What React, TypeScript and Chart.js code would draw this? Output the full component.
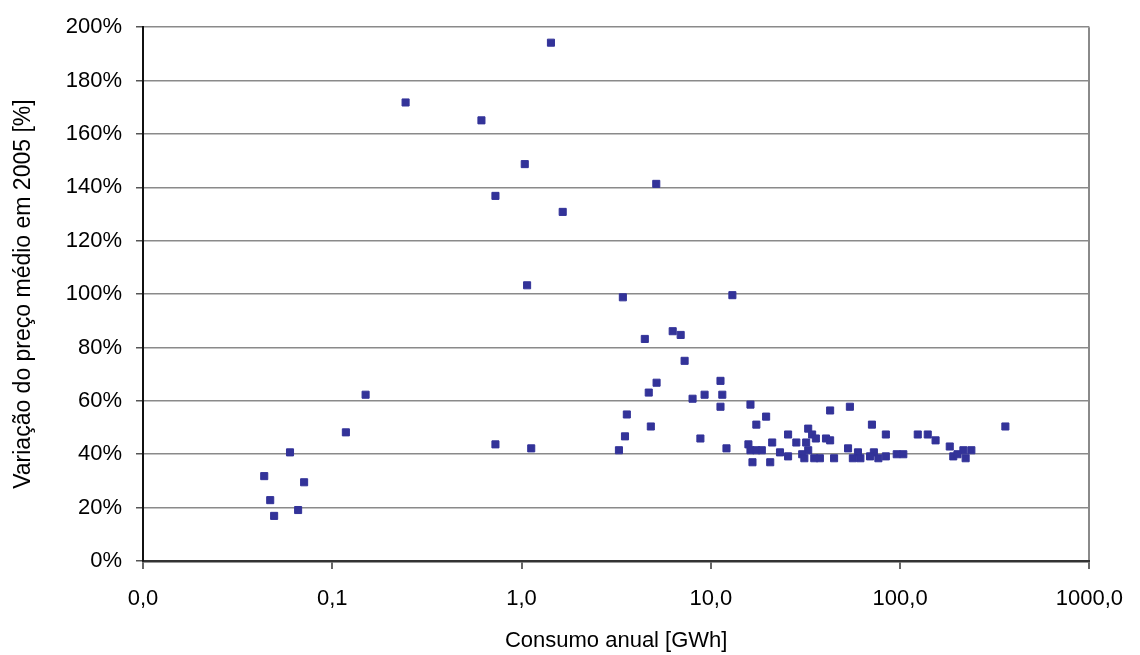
import React, { useEffect, useRef } from "react";
import { Chart, registerables } from "chart.js";

Chart.register(...registerables);

// Consumo anual [GWh]
const consumo = [
  1.43, 0.244, 0.614, 1.04, 0.728, 1.07, 5.15, 1.65, 3.43, 13.0,
  0.15, 0.118, 0.728, 1.125, 0.0598, 0.0437, 0.071, 0.047, 0.066, 0.0493,
  6.29, 6.93, 4.48, 7.27, 11.25, 5.17, 4.7, 9.27, 11.5, 8.01,
  11.25, 16.2, 3.6, 19.6, 42.7, 4.82, 17.4, 32.7, 3.52, 8.81,
  25.6, 34.3, 35.9, 40.6, 42.7, 28.3, 31.9, 21.1, 15.8, 3.27,
  12.1, 16.2, 17.4, 18.6, 32.7, 23.2, 25.6, 30.4, 31.2, 35.2,
  37.7, 44.8, 16.6, 20.6, 54.3, 71.0, 84.1, 124, 140, 154,
  360, 53.1, 59.9, 72.7, 69.4, 84.1, 76.8, 56.3, 61.7, 96,
  104, 183, 216, 238, 191, 201, 222,
];

// Variação do preço médio em 2005 [%]
const variacao = [
  194.2, 171.8, 165.1, 148.7, 136.8, 103.3, 141.3, 130.8, 98.8, 99.6,
  62.3, 48.2, 43.7, 42.2, 40.7, 31.8, 29.5, 22.8, 19.1, 16.9,
  86.1, 84.7, 83.2, 75.0, 67.5, 66.8, 63.1, 62.3, 62.3, 60.8,
  57.8, 58.6, 54.9, 54.1, 56.4, 50.4, 51.1, 49.6, 46.7, 45.9,
  47.4, 47.4, 45.9, 45.9, 45.2, 44.4, 44.4, 44.4, 43.7, 41.5,
  42.2, 41.5, 41.5, 41.5, 41.5, 40.7, 39.2, 40.0, 38.5, 38.5,
  38.5, 38.5, 37.0, 37.0, 57.8, 51.1, 47.4, 47.4, 47.4, 45.2,
  50.4, 42.2, 40.7, 40.7, 39.2, 39.2, 38.5, 38.5, 38.5, 40.0,
  40.0, 42.9, 41.5, 41.5, 39.2, 40.0, 38.5,
];

const xTickValues = [0.01, 0.1, 1, 10, 100, 1000];
const xTickLabels = ["0,0", "0,1", "1,0", "10,0", "100,0", "1000,0"];
const yTickStep = 20;
const yMin = 0;
const yMax = 200;

const xTitle = "Consumo anual [GWh]";
const yTitle = "Variação do preço médio em 2005 [%]";

const FONT = "'Liberation Sans', Arial, Helvetica, sans-serif";

export default function App() {
  const ref = useRef<HTMLCanvasElement | null>(null);

  useEffect(() => {
    document.body.style.margin = "0";
    const canvas = ref.current;
    if (!canvas) return;
    const points = consumo.map((x, i) => ({ x, y: variacao[i] }));
    const chart = new Chart(canvas, {
      type: "scatter",
      data: {
        datasets: [
          {
            data: points,
            pointStyle: "rect",
            pointRadius: 5,
            pointBorderWidth: 1,
            backgroundColor: "#333399",
            borderColor: "#333399",
          },
        ],
      },
      options: {
        responsive: false,
        animation: false,
        devicePixelRatio: 1,
        layout: { padding: { top: 24, right: 47, bottom: 0, left: 0 } },
        plugins: {
          legend: { display: false },
          tooltip: { enabled: false },
        },
        scales: {
          x: {
            type: "logarithmic",
            min: 0.01,
            max: 1000,
            afterBuildTicks: (scale: any) => {
              scale.ticks = xTickValues.map((v) => ({ value: v }));
            },
            afterFit: (scale: any) => {
              scale.height = 94;
            },
            ticks: {
              autoSkip: false,
              maxRotation: 0,
              padding: 17,
              color: "#000",
              font: { family: FONT, size: 22 },
              callback: (_v: any, i: number) => xTickLabels[i],
            },
            grid: {
              color: (ctx: any) =>
                ctx.tick && ctx.tick.value === 1000 ? "#8a8a8a" : "rgba(0,0,0,0)",
              lineWidth: 2,
              tickColor: "#333",
              tickLength: 8,
              tickWidth: 1.5,
            },
            border: { display: true, color: "#333", width: 2.5 },
            title: {
              display: true,
              text: xTitle,
              color: "#000",
              font: { family: FONT, size: 22 },
              padding: { top: 0, bottom: 1 },
            },
          },
          y: {
            type: "linear",
            min: yMin,
            max: yMax,
            afterFit: (scale: any) => {
              scale.width = 143;
            },
            ticks: {
              stepSize: yTickStep,
              padding: 14,
              color: "#000",
              font: { family: FONT, size: 22 },
              callback: (v: any) => v + "%",
            },
            grid: {
              color: "#8a8a8a",
              lineWidth: 1.5,
              tickColor: "#555",
              tickLength: 7,
              tickWidth: 1.5,
            },
            border: { display: true, color: "#111", width: 2 },
            title: {
              display: true,
              text: yTitle,
              color: "#000",
              font: { family: FONT, size: 23 },
              padding: { top: 10, bottom: 0 },
            },
          },
        },
      },
    });
    return () => chart.destroy();
  }, []);

  return (
    <div style={{ width: 1140, height: 655, background: "#fff" }}>
      <canvas ref={ref} width={1140} height={655} style={{ display: "block" }} />
    </div>
  );
}
